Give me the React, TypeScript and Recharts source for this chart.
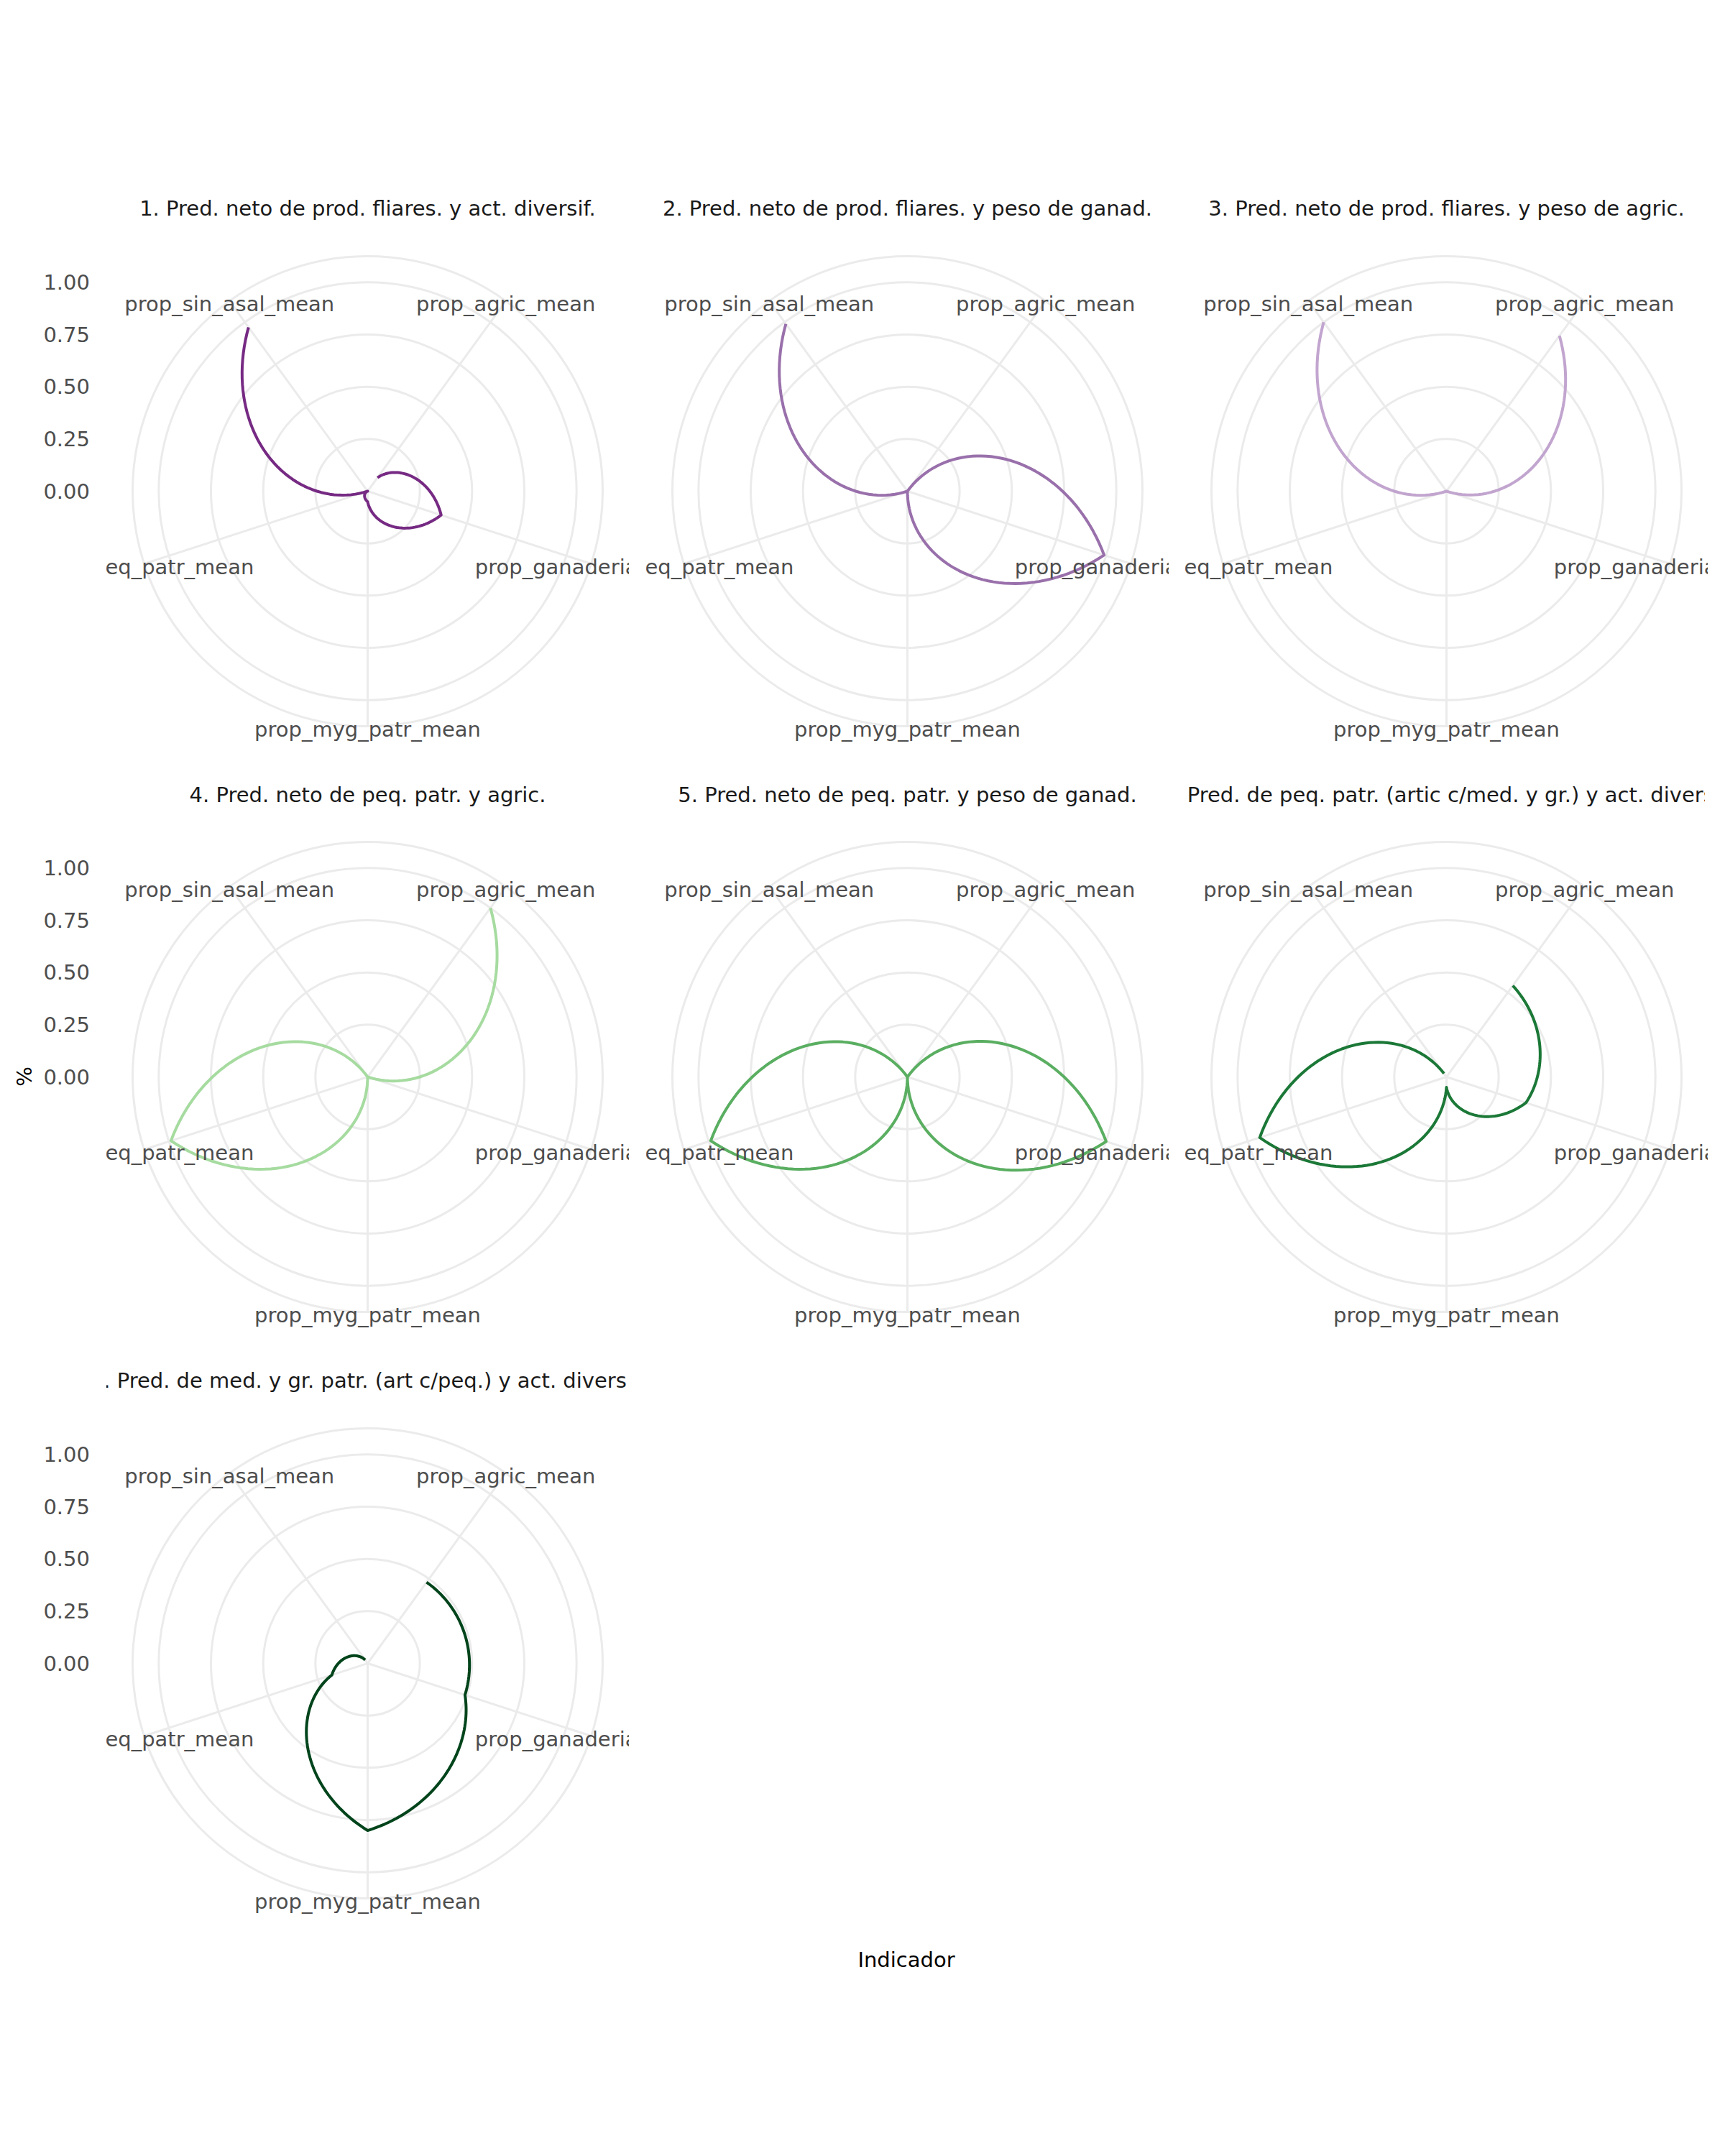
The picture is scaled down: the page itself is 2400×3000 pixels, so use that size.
import React from "react";
import { RadarChart, PolarGrid, PolarAngleAxis, PolarRadiusAxis, Radar } from "recharts";

const CATEGORIES = [
  "prop_agric_mean",
  "prop_ganaderia_mean",
  "prop_myg_patr_mean",
  "prop_peq_patr_mean",
  "prop_sin_asal_mean",
];

const TITLES = [
  "1. Pred. neto de prod. fliares. y act. diversif.",
  "2. Pred. neto de prod. fliares. y peso de ganad.",
  "3. Pred. neto de prod. fliares. y peso de agric.",
  "4. Pred. neto de peq. patr. y agric.",
  "5. Pred. neto de peq. patr. y peso de ganad.",
  "6. Pred. de peq. patr. (artic c/med. y gr.) y act. diversif.",
  "7. Pred. de med. y gr. patr. (art c/peq.) y act. diversif.",
];

// values in CATEGORIES order
const VALUES_1 = [0.08, 0.37, 0.05, 0.0, 0.97];
const VALUES_2 = [0.0, 0.99, 0.0, 0.0, 0.99];
const VALUES_3 = [0.92, 0.0, 0.0, 0.0, 1.0];
const VALUES_4 = [1.0, 0.0, 0.0, 0.99, 0.0];
const VALUES_5 = [0.0, 1.0, 0.0, 0.99, 0.0];
const VALUES_6 = [0.54, 0.4, 0.05, 0.94, 0.02];
const VALUES_7 = [0.48, 0.49, 0.8, 0.18, 0.02];

const COLORS = ["#762a83", "#9970ab", "#c2a5cf", "#a6dba0", "#5aae61", "#1b7837", "#00441b"];

const Y_TICKS = [0, 0.25, 0.5, 0.75, 1];
const GRID_BREAKS = [0.25, 0.5, 0.75, 1, 1.125];
const R_MAX = 1.125;

const FONT = "'DejaVu Sans', sans-serif";
const SIDE = 727;
const HALF = SIDE / 2;
const R_OUT = 327;
const LEFT_EXTRA = 147;
const COL_X = [511, 1262, 2012];
const ROW_Y = [683, 1498.5, 2314];
const STEPS = 48;

const PANELS = [VALUES_1, VALUES_2, VALUES_3, VALUES_4, VALUES_5, VALUES_6, VALUES_7];

// coord_polar style path: radius and angle change linearly between points
const spiralShape = (color: string) => (props: any) => {
  const pts = props.points ?? [];
  let d = "";
  for (let i = 0; i < pts.length - 1; i++) {
    const p0 = pts[i];
    const p1 = pts[i + 1];
    for (let k = i === 0 ? 0 : 1; k <= STEPS; k++) {
      const t = k / STEPS;
      const a = ((p0.angle + t * (p1.angle - p0.angle)) * Math.PI) / 180;
      const r = p0.radius + t * (p1.radius - p0.radius);
      const x = p0.cx + r * Math.cos(-a);
      const y = p0.cy + r * Math.sin(-a);
      d += (d ? "L" : "M") + x.toFixed(2) + "," + y.toFixed(2);
    }
  }
  return <path d={d} fill="none" stroke={color} strokeWidth={4} strokeLinejoin="round" />;
};

function Panel({ idx }: { idx: number }) {
  const col = idx % 3;
  const row = Math.floor(idx / 3);
  const extra = col === 0 ? LEFT_EXTRA : 0;
  const pageCx = COL_X[col];
  const pageCy = ROW_Y[row];
  const values = PANELS[idx];
  const data = CATEGORIES.map((c, i) => ({ indicador: c, valor: values[i] }));
  const clipBase = `clip-p${idx}`;
  const localCx = HALF + extra;
  const localCy = HALF;

  const angleTick = (p: any) => {
    // label centre sits on the outer circle, along the spoke
    const vx = p.x - localCx;
    const vy = p.y - localCy;
    const len = Math.hypot(vx, vy) || 1;
    const x = localCx + (vx / len) * R_OUT;
    const y = localCy + (vy / len) * R_OUT + 4;
    return (
      <g>
        <clipPath id={`${clipBase}-${p.index}`}>
          <rect x={extra} y={0} width={SIDE} height={SIDE} />
        </clipPath>
        <text
          x={x}
          y={y}
          textAnchor="middle"
          dominantBaseline="central"
          fontSize={29}
          fontFamily={FONT}
          fill="#4d4d4d"
          clipPath={`url(#${clipBase}-${p.index})`}
        >
          {p.payload.value}
        </text>
      </g>
    );
  };

  const radiusTick = (p: any) => (
    <text
      x={p.x - 386.5}
      y={p.y}
      textAnchor="end"
      dominantBaseline="central"
      fontSize={29}
      fontFamily={FONT}
      fill="#4d4d4d"
    >
      {Number(p.payload.value).toFixed(2)}
    </text>
  );

  return (
    <>
      <svg
        width={SIDE - 4}
        height={64}
        style={{ position: "absolute", left: pageCx - HALF, top: pageCy - 393 - 32 }}
      >
        <text
          x={HALF}
          y={32}
          textAnchor="middle"
          dominantBaseline="central"
          fontSize={29}
          fontFamily={FONT}
          fill="#1a1a1a"
        >
          {TITLES[idx]}
        </text>
      </svg>
      <div style={{ position: "absolute", left: pageCx - HALF - extra, top: pageCy - HALF }}>
        <RadarChart
          width={SIDE + extra}
          height={SIDE}
          data={data}
          cx={localCx}
          cy={localCy}
          innerRadius={0}
          outerRadius={R_OUT}
          startAngle={54}
          endAngle={-306}
          margin={{ top: 0, right: 0, bottom: 0, left: 0 }}
        >
          <PolarGrid
            gridType="circle"
            stroke="#ebebeb"
            strokeWidth={3}
            polarRadius={GRID_BREAKS.map((b) => (b / R_MAX) * R_OUT)}
          />
          <PolarAngleAxis
            dataKey="indicador"
            tick={angleTick}
            tickLine={false}
            axisLine={false}
            tickSize={0}
          />
          <PolarRadiusAxis
            angle={90}
            type="number"
            domain={[0, R_MAX]}
            ticks={Y_TICKS}
            tick={col === 0 ? radiusTick : false}
            axisLine={false}
            tickLine={false}
            allowDataOverflow
          />
          <Radar
            dataKey="valor"
            stroke={COLORS[idx]}
            fill="none"
            dot={false}
            isAnimationActive={false}
            shape={spiralShape(COLORS[idx])}
          />
        </RadarChart>
      </div>
    </>
  );
}

export default function App() {
  return (
    <div
      style={{
        position: "absolute",
        left: 0,
        top: 0,
        width: 2400,
        height: 3000,
        background: "#ffffff",
        overflow: "hidden",
      }}
    >
      {PANELS.map((_, i) => (
        <Panel key={i} idx={i} />
      ))}
      <svg width={80} height={200} style={{ position: "absolute", left: 0, top: 1399 }}>
        <text
          x={34}
          y={99}
          transform="rotate(-90 34 99)"
          textAnchor="middle"
          dominantBaseline="central"
          fontSize={29}
          fontFamily={FONT}
          fill="#000000"
        >
          %
        </text>
      </svg>
      <svg width={400} height={60} style={{ position: "absolute", left: 1061, top: 2697 }}>
        <text
          x={200}
          y={30}
          textAnchor="middle"
          dominantBaseline="central"
          fontSize={29}
          fontFamily={FONT}
          fill="#000000"
        >
          Indicador
        </text>
      </svg>
    </div>
  );
}
